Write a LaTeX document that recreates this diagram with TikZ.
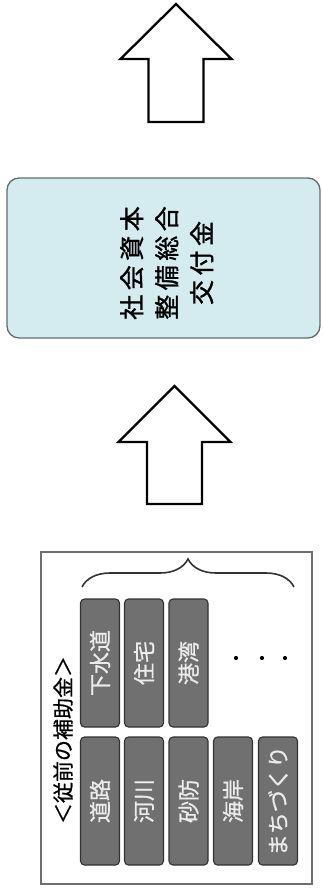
\documentclass[tikz,border=0pt]{standalone}
\usepackage{fontspec}
\newfontfamily\jp[FakeBold=0.8]{Noto Sans CJK JP}
\newfontfamily\jpwide[LetterSpace=18,FakeBold=1.2]{Noto Sans CJK JP}
\usetikzlibrary{decorations.pathreplacing}
\definecolor{boxcyan}{RGB}{212,236,240}
\definecolor{boxedge}{RGB}{95,110,112}
\definecolor{tilegray}{RGB}{112,112,112}
\definecolor{tileedge}{RGB}{50,50,50}
\definecolor{framegray}{RGB}{110,110,110}
\tikzset{
  blockarrow/.style={draw=black, line width=2.3pt, line join=miter, fill=white},
  mainbox/.style={draw=boxedge, line width=1.3pt, fill=boxcyan, rounded corners=12pt,
    minimum width=313pt, minimum height=160pt, inner sep=0pt},
  maintext/.style={rotate=90, align=center, inner sep=0pt,
    font=\jpwide\fontsize{25}{35}\selectfont},
  tile/.style={draw=tileedge, line width=1.1pt, fill=tilegray, rounded corners=4pt,
    rotate=90, minimum width=128pt, minimum height=39pt, inner sep=0pt,
    text=white!92!black, font=\jp\fontsize{22}{22}\selectfont},
  frame/.style={draw=framegray, line width=1.3pt},
  grouplabel/.style={rotate=90, inner sep=0pt, font=\jp\fontsize{21}{21}\selectfont},
  dotmark/.style={circle, fill=black, minimum size=4.2pt, inner sep=0pt}
}
\begin{document}
\begin{tikzpicture}[x=1pt,y=-1pt]
\useasboundingbox (0,0) rectangle (323,889);
% upper block arrow
\coordinate (a1) at (176,122);
\draw[blockarrow, shift={(a1)}] (-27.5,0) -- (-27.5,-63) -- (-55.5,-63) -- (0,-118)
  -- (55.5,-63) -- (27.5,-63) -- (27.5,0) -- cycle;
% main box
\node[mainbox] (main) at (163.5,258) {};
\node[maintext] (mainlabel) at (166.7,263) {社会資本\\整備総合\\交付金};
% lower block arrow
\coordinate (a2) at (174.5,504);
\draw[blockarrow, shift={(a2)}] (-27.5,0) -- (-27.5,-62) -- (-56,-62) -- (0,-118)
  -- (56,-62) -- (27.5,-62) -- (27.5,0) -- cycle;
% frame of former subsidies
\draw[frame] (41,552) rectangle (312,884);
\node[grouplabel] (grp) at (63,740) {＜従前の補助金＞};
% brace
\coordinate (b1) at (82,587);
\coordinate (b2) at (294,587);
\draw[tileedge, line width=1.6pt, decorate, decoration={brace, amplitude=28pt}] (b1) -- (b2);
% tiles, upper row
\node[tile] (t1) at (100,663) {下水道};
\node[tile] (t2) at (144,663) {住宅};
\node[tile] (t3) at (188.5,663) {港湾};
\node[dotmark] (d1) at (236,658) {};
\node[dotmark] (d2) at (262,658) {};
\node[dotmark] (d3) at (285,658) {};
% tiles, lower row
\node[tile] (u1) at (100,801) {道路};
\node[tile] (u2) at (144,801) {河川};
\node[tile] (u3) at (188.5,801) {砂防};
\node[tile] (u4) at (233,801) {海岸};
\node[tile] (u5) at (278,801) {まちづくり};
\end{tikzpicture}
\end{document}
